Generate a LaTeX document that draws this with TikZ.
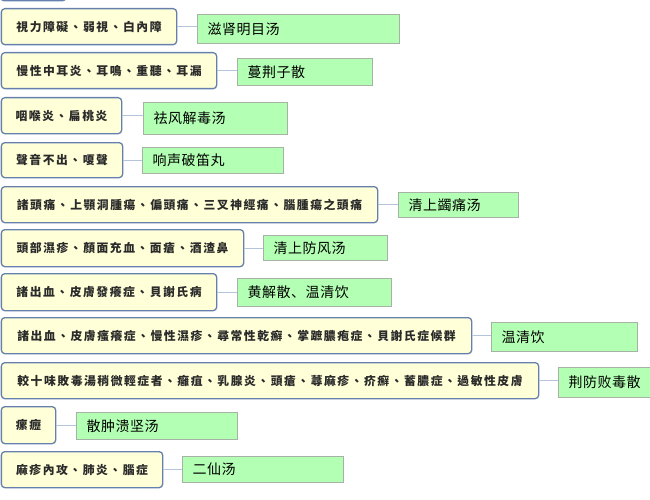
\documentclass[tikz,border=0pt]{standalone}
\usepackage{fontspec}
\newfontfamily\yfont[LetterSpace=13]{Noto Sans CJK TC}
\newfontfamily\gfont[LetterSpace=4]{Noto Sans CJK SC}
\definecolor{yfill}{HTML}{FFFFD8}
\definecolor{ydraw}{HTML}{6580AC}
\definecolor{gfill}{HTML}{B3FFB3}
\definecolor{gdraw}{HTML}{A6B2A6}
\definecolor{conn}{HTML}{B4C4DC}
\definecolor{ytext}{HTML}{2A2A2A}
\tikzset{
  ybox/.style={draw=ydraw, fill=yfill, line width=1.3pt, rounded corners=3.5pt,
    anchor=north west, inner sep=0pt, text=ytext,
    font=\yfont\bfseries\fontsize{11.8}{12}\selectfont},
  gbox/.style={draw=gdraw, fill=gfill, line width=1pt, anchor=north west,
    inner xsep=10pt, inner ysep=0pt, text=black,
    font=\gfont\fontsize{14}{15}\selectfont},
  link/.style={draw=conn, line width=1.3pt}
}
\newcommand\yn[6]{% name, x1, y1, x2, y2, text
  \node[ybox, minimum width=#4-#2, minimum height=#5-#3] (#1) at (#2,#3) {#6};}
\newcommand\gn[6]{%
  \node[gbox, minimum height=#5-#3] (#1) at (#2,#3) {\makebox[\dimexpr #4pt-#2pt-20pt\relax][l]{\raisebox{1pt}{#6}}};}
\begin{document}
\begin{tikzpicture}[x=1pt,y=-1pt]
\useasboundingbox (0,0) rectangle (650,500);
% partial box at top
\draw[draw=ydraw, fill=yfill, line width=1.3pt, rounded corners=3.5pt] (0.7,-30) rectangle (66,0.8);
\yn{y1}{0.7}{8}{176}{44}{視力障礙、弱視、白內障}
\gn{g1}{197}{14}{399}{43}{滋肾明目汤}
\yn{y2}{0.7}{52}{216}{88}{慢性中耳炎、耳鳴、重聽、耳漏}
\gn{g2}{237}{58}{372}{85}{蔓荆子散}
\yn{y3}{0.7}{97}{121}{133}{咽喉炎、扁桃炎}
\gn{g3}{143}{102}{287}{134}{祛风解毒汤}
\yn{y4}{0.7}{142}{122}{177}{聲音不出、嗄聲}
\gn{g4}{142}{147}{283}{173}{响声破笛丸}
\yn{y5}{0.7}{186}{377}{222}{諸頭痛、上顎洞腫瘍、偏頭痛、三叉神經痛、腦腫瘍之頭痛}
\gn{g5}{398}{192}{518}{217}{清上蠲痛汤}
\yn{y6}{0.7}{229}{243}{266}{頭部濕疹、顏面充血、面瘡、酒渣鼻}
\gn{g6}{263}{235}{387}{260}{清上防风汤}
\yn{y7}{0.7}{273}{216}{310}{諸出血、皮膚發癢症、貝謝氏病}
\gn{g7}{237}{278}{391}{306}{黄解散、温清饮}
\yn{y8}{0.7}{317}{471}{353}{諸出血、皮膚瘙癢症、慢性濕疹、尋常性乾癬、掌蹠膿疱症、貝謝氏症候群}
\gn{g8}{491}{322}{637}{351}{温清饮}
\yn{y9}{0.7}{362}{538}{398}{較十味敗毒湯稍微輕症者、癰疽、乳腺炎、頭瘡、蕁麻疹、疥癬、蓄膿症、過敏性皮膚}
\gn{g9}{558}{367}{650.5}{397}{荆防败毒散}
\yn{y10}{0.7}{406}{55}{443}{瘰癧}
\gn{g10}{76}{412}{237}{439}{散肿溃坚汤}
\yn{y11}{0.7}{451}{162}{487}{麻疹內攻、肺炎、腦症}
\gn{g11}{182}{456}{343}{482}{二仙汤}
\foreach \i in {1,...,11}{
  \draw[link] (y\i.east) -- (y\i.east -| g\i.west);
}
\end{tikzpicture}
\end{document}
